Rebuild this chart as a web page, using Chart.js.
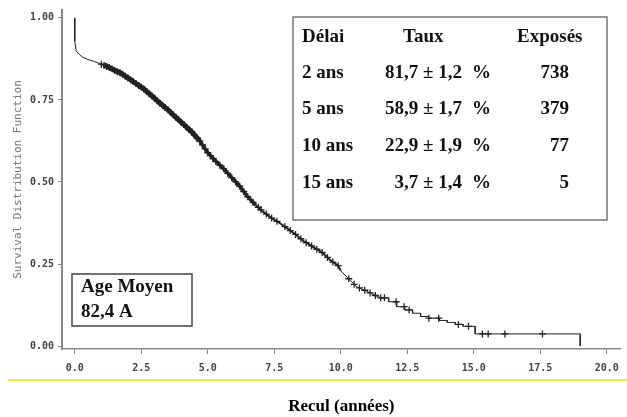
<!DOCTYPE html>
<html><head><meta charset="utf-8">
<script src="https://cdn.jsdelivr.net/npm/chart.js@4"></script>
<style>html,body{margin:0;padding:0;background:#fff;}#wrap{width:627px;height:417px;position:relative;}</style>
</head><body><div id="wrap"><canvas id="c" width="627" height="417"></canvas></div>
<script>
// Kaplan-Meier curve points (years, survival)
const curveX = [0,0,0.05,0.15,0.3,0.5,0.7,0.9,1.1,1.3,1.5,1.7,2.0,2.3,2.6,2.9,3.2,3.5,3.8,4.1,4.4,4.7,5.0,5.3,5.6,5.9,6.2,6.5,6.8,7.1,7.4,7.7,8.0,8.3,8.6,9.0,9.3,9.6,9.9,10.0,10.3,10.6,10.9,11.2,11.5,11.8,11.8,12.1,12.1,12.4,12.4,12.7,12.7,13.0,13.0,13.3,13.3,13.7,13.7,14.0,14.0,14.3,14.3,14.6,14.6,15.05,15.05,19.0,19.0];
const curveY = [1.0,0.93,0.90,0.89,0.88,0.873,0.868,0.862,0.856,0.849,0.84,0.833,0.817,0.80,0.783,0.762,0.74,0.72,0.697,0.675,0.652,0.625,0.589,0.563,0.54,0.513,0.487,0.455,0.43,0.408,0.39,0.375,0.358,0.34,0.32,0.30,0.285,0.262,0.245,0.229,0.205,0.18,0.17,0.158,0.147,0.147,0.135,0.135,0.12,0.12,0.11,0.11,0.10,0.10,0.09,0.09,0.085,0.085,0.078,0.078,0.072,0.072,0.066,0.066,0.06,0.06,0.037,0.037,0.0];
// Censored observations (+ marks)
const censX = [1.0,1.1,1.2,1.3,1.4,1.5,1.6,1.7,1.8,1.9,2.0,2.1,2.2,2.3,2.4,2.5,2.6,2.7,2.8,2.9,3.0,3.1,3.2,3.3,3.4,3.5,3.6,3.7,3.8,3.9,4.0,4.1,4.2,4.3,4.4,4.5,4.6,4.7,4.8,4.9,5.0,5.1,5.2,5.3,5.45,5.6,5.75,5.9,6.05,6.2,6.35,6.5,6.7,6.9,7.0,7.2,7.4,7.6,7.9,8.1,8.3,8.5,8.7,8.9,9.1,9.3,9.5,9.7,9.9,10.3,10.5,10.7,10.9,11.1,11.3,11.5,11.64,12.08,12.38,12.57,13.31,13.68,14.42,14.8,15.32,15.54,16.17,17.58];
const censY = [0.859,0.856,0.852,0.849,0.845,0.840,0.836,0.833,0.828,0.822,0.817,0.811,0.806,0.800,0.794,0.789,0.783,0.776,0.769,0.762,0.755,0.747,0.740,0.733,0.727,0.720,0.712,0.705,0.697,0.690,0.682,0.675,0.667,0.660,0.652,0.643,0.634,0.625,0.613,0.601,0.589,0.580,0.571,0.563,0.551,0.540,0.526,0.513,0.500,0.487,0.471,0.455,0.438,0.423,0.415,0.402,0.390,0.380,0.364,0.352,0.340,0.327,0.315,0.305,0.295,0.285,0.270,0.256,0.245,0.205,0.188,0.177,0.170,0.162,0.154,0.147,0.147,0.135,0.12,0.11,0.085,0.085,0.066,0.06,0.037,0.037,0.037,0.037];
const xTicks = [0,2.5,5,7.5,10,12.5,15,17.5,20];
const yTicks = [0,0.25,0.5,0.75,1.0];
// Summary table
const tableHeader = ['Délai','Taux','Exposés'];
const delais = ['2 ans','5 ans','10 ans','15 ans'];
const taux = ['81,7 ± 1,2','58,9 ± 1,7','22,9 ± 1,9','3,7 ± 1,4'];
const exposes = ['738','379','77','5'];
const ageLines = ['Age Moyen','82,4 A'];

const curve = curveX.map((x,i)=>({x, y: curveY[i]}));
const cens = censX.map((x,i)=>({x, y: censY[i]}));

const overlay = {
  id:'overlay',
  afterDraw(chart){
    const ctx = chart.ctx;
    ctx.save();
    ctx.strokeStyle = '#eeee40'; ctx.lineWidth = 2;
    ctx.beginPath(); ctx.moveTo(8,380); ctx.lineTo(627,380); ctx.stroke();
    ctx.fillStyle = '#fff';
    ctx.fillRect(293,17,314,203);
    ctx.strokeStyle = '#777'; ctx.lineWidth = 1.5;
    ctx.strokeRect(293,17,314,203);
    ctx.fillStyle = '#111';
    ctx.font = 'bold 19px "Liberation Serif"';
    ctx.textBaseline = 'middle';
    ctx.textAlign = 'left';
    ctx.fillText(tableHeader[0],302,37);
    ctx.fillText(tableHeader[1],403,37);
    ctx.fillText(tableHeader[2],517,37);
    const rows = [73,109,146,183];
    delais.forEach((d,i)=>{
      ctx.textAlign='left'; ctx.fillText(d,302,rows[i]);
      ctx.textAlign='right'; ctx.fillText(taux[i],462,rows[i]);
      ctx.textAlign='left'; ctx.fillText('%',472,rows[i]);
      ctx.textAlign='right'; ctx.fillText(exposes[i],569,rows[i]);
    });
    ctx.fillStyle = '#fff';
    ctx.fillRect(72,274,120,52);
    ctx.strokeStyle = '#444'; ctx.lineWidth = 1.5;
    ctx.strokeRect(72,274,120,52);
    ctx.fillStyle = '#111';
    ctx.textAlign='left';
    ctx.fillText(ageLines[0],81,287);
    ctx.fillText(ageLines[1],81,312);
    ctx.restore();
  }
};

function bandWidth(c){
  const x = c.p0.parsed.x;
  if (x >= 1.0 && x < 4.5) return 5;
  if (x >= 4.5 && x < 6.8) return 3.5;
  if (x >= 6.8 && x < 10.0) return 2;
  return 1;
}

new Chart(document.getElementById('c'), {
  type:'scatter',
  data:{datasets:[
    {data:curve, showLine:true, borderColor:'#222', borderWidth:1, pointRadius:0, tension:0, fill:false,
     segment:{borderWidth: bandWidth}},
    {data:cens, showLine:false, pointStyle:'cross', pointRadius:3.5, borderColor:'#222', borderWidth:1.3, backgroundColor:'#222'}
  ]},
  options:{
    responsive:false, animation:false, devicePixelRatio:1,
    layout:{padding:{top:10,right:0,left:0,bottom:0}},
    plugins:{legend:{display:false}, tooltip:{enabled:false}},
    scales:{
      x:{type:'linear', min:-0.48, max:20.52,
        afterBuildTicks(s){ s.ticks = xTicks.map(v=>({value:v})); },
        afterFit(s){ s.height = 68; },
        grid:{drawOnChartArea:false, drawTicks:true, tickLength:5, color:'#888'},
        border:{display:true, color:'#888', width:1.5},
        ticks:{color:'#444', padding:8, maxRotation:0, font:{family:'DejaVu Sans Mono', size:10, weight:'bold'}, callback:v=>Number(v).toFixed(1)},
        title:{display:true, text:'Recul (années)', color:'#000', font:{family:'Liberation Serif', size:17, weight:'bold'}, padding:{top:25,bottom:0}}
      },
      y:{type:'linear', min:-0.009, max:1.024,
        afterBuildTicks(s){ s.ticks = yTicks.map(v=>({value:v})); },
        afterFit(s){ s.width = 62; },
        grid:{drawOnChartArea:false, drawTicks:true, tickLength:4, color:'#888'},
        border:{display:true, color:'#888', width:2},
        ticks:{color:'#444', padding:4, font:{family:'DejaVu Sans Mono', size:10, weight:'bold'}, callback:v=>Number(v).toFixed(2)},
        title:{display:true, text:'Survival Distribution Function', color:'#777', font:{family:'DejaVu Sans Mono', size:11}, padding:{top:12,bottom:0}}
      }
    }
  },
  plugins:[overlay]
});
</script></body></html>
